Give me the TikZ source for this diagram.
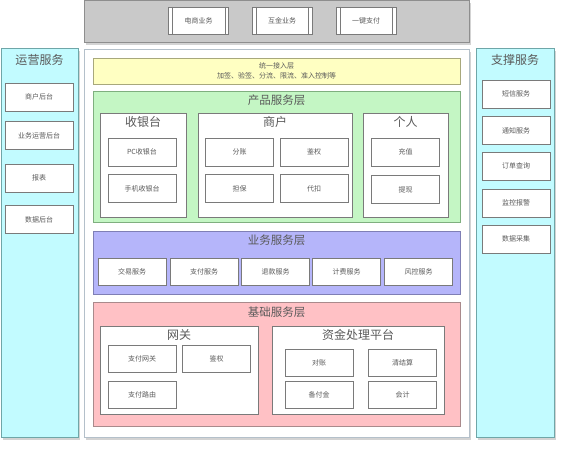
\documentclass[tikz,border=0pt]{standalone}
\usepackage{fontspec}
\setmainfont{Noto Sans CJK SC}
\usetikzlibrary{shadows}

\definecolor{txt}{HTML}{5A5A5A}
\definecolor{boxline}{HTML}{7A7A7A}
\definecolor{grayfill}{HTML}{C9C9C9}
\definecolor{grayline}{HTML}{8E8E8E}
\definecolor{mainline}{HTML}{B4C0CA}
\definecolor{cyanfill}{HTML}{C2FBFF}
\definecolor{cyanline}{HTML}{6FA6A8}
\definecolor{yellowfill}{HTML}{FFFFC2}
\definecolor{yellowline}{HTML}{A8A87C}
\definecolor{greenfill}{HTML}{C4F6C4}
\definecolor{greenline}{HTML}{7FAF7F}
\definecolor{bluefill}{HTML}{B5B5FA}
\definecolor{blueline}{HTML}{7F7FB5}
\definecolor{redfill}{HTML}{FFC1C5}
\definecolor{redline}{HTML}{A98A8C}

\tikzset{
  item/.style={draw=boxline, fill=white, minimum width=68pt, minimum height=28pt,
    inner sep=0pt, text=txt, font=\fontsize{7}{8}\selectfont},
  layer/.style 2 args={draw=#1, fill=#2, inner sep=0pt},
  group/.style={draw=boxline, fill=white, inner sep=0pt},
  title/.style={text=txt, inner sep=0pt, font=\fontsize{12}{13}\selectfont},
  shade/.style={drop shadow={shadow xshift=1.5pt, shadow yshift=-2.5pt, opacity=0.35}}
}

\begin{document}
\begin{tikzpicture}[x=1pt, y=-1pt]
\useasboundingbox (0,0) rectangle (564,448);

\node [layer={grayline}{grayfill}, shade, minimum width=385pt, minimum height=42pt] (entry) at (276.5,21) {};
\foreach \t/\x/\n in {电商业务/198.5/ds, 互金业务/282/hj, 一键支付/366/yj} {
    \node [item, minimum width=60pt, minimum height=27pt] (\n) at (\x,20.5) {\t};
    \draw [boxline] ([xshift=4pt]\n.north west) -- ([xshift=4pt]\n.south west);
    \draw [boxline] ([xshift=-4pt]\n.north east) -- ([xshift=-4pt]\n.south east);
}

\node [layer={cyanline}{cyanfill}, shade, minimum width=77pt, minimum height=389pt] (ops) at (39.5,242.5) {};
\node [title] (opstitle) at (39.5,60) {运营服务};
\foreach \t/\y/\n in {商户后台/97/shht, 业务运营后台/135.5/ywyy, 报表/178/bb, 数据后台/219.5/sjht} {
    \node [item] (\n) at (39,\y) {\t};
}

\node [layer={cyanline}{cyanfill}, shade, minimum width=78pt, minimum height=389pt] (sup) at (515,242.5) {};
\node [title] (suptitle) at (515,60) {支撑服务};
\foreach \t/\y/\n in {短信服务/94/dx, 通知服务/130.5/tz, 订单查询/166/dd, 监控报警/203/jk, 数据采集/239/sjcj} {
    \node [item] (\n) at (516,\y) {\t};
}

\node [layer={mainline}{white}, shade, minimum width=385pt, minimum height=388pt] (main) at (276.5,243) {};

\node [layer={yellowline}{yellowfill}, minimum width=367pt, minimum height=26pt, align=center, text=txt, font=\fontsize{7}{10}\selectfont] (access) at (276.5,71) {统一接入层\\加签、验签、分流、限流、准入控制等};

\node [layer={greenline}{greenfill}, minimum width=367pt, minimum height=131pt] (product) at (276.5,156.5) {};
\node [title, font=\fontsize{11.5}{12}\selectfont] (producttitle) at (276.5,100) {产品服务层};
\node [group, minimum width=86pt, minimum height=104pt] (cashier) at (143,165) {};
\node [title] at (143,122) {收银台};
\node [group, minimum width=154pt, minimum height=104pt] (merchant) at (275,165) {};
\node [title] at (275,122) {商户};
\node [group, minimum width=85pt, minimum height=104pt] (person) at (405.5,165) {};
\node [title] at (405.5,122) {个人};
\node [item] (pc) at (142,152) {PC收银台};
\node [item] (mobile) at (142,188.5) {手机收银台};
\node [item] (fz) at (239.5,152) {分账};
\node [item] (jq) at (314,152) {鉴权};
\node [item] (db) at (239.5,188.5) {担保};
\node [item] (dk) at (314,188.5) {代扣};
\node [item] (cz) at (405.5,152) {充值};
\node [item] (tx) at (405.5,189.5) {提现};

\node [layer={blueline}{bluefill}, minimum width=367pt, minimum height=63pt] (business) at (276.5,262.5) {};
\node [title, font=\fontsize{11.5}{12}\selectfont] (businesstitle) at (276.5,240) {业务服务层};
\foreach \t/\x/\n in {交易服务/132/jy, 支付服务/204/zf, 退款服务/275.5/tk, 计费服务/346.5/jf, 风控服务/418.5/fk} {
    \node [item, minimum height=27pt] (\n) at (\x,271.5) {\t};
}

\node [layer={redline}{redfill}, minimum width=367pt, minimum height=124pt] (base) at (276.5,364) {};
\node [title, font=\fontsize{11.5}{12}\selectfont] (basetitle) at (276.5,312) {基础服务层};
\node [group, minimum width=158pt, minimum height=88pt] (gateway) at (179,370) {};
\node [title] at (179,335) {网关};
\node [group, minimum width=172pt, minimum height=88pt] (fund) at (358,370) {};
\node [title] at (358,335) {资金处理平台};
\node [item, minimum height=27pt] (zfwg) at (142,358.5) {支付网关};
\node [item, minimum height=27pt] (gwjq) at (216.5,358.5) {鉴权};
\node [item, minimum height=27pt] (zfly) at (142,394.5) {支付路由};
\node [item, minimum height=27pt] (dz) at (319,363) {对账};
\node [item, minimum height=27pt] (qjs) at (402.5,363) {清结算};
\node [item, minimum height=27pt] (bfj) at (319,394.5) {备付金};
\node [item, minimum height=27pt] (kj) at (402.5,394.5) {会计};
\end{tikzpicture}
\end{document}
